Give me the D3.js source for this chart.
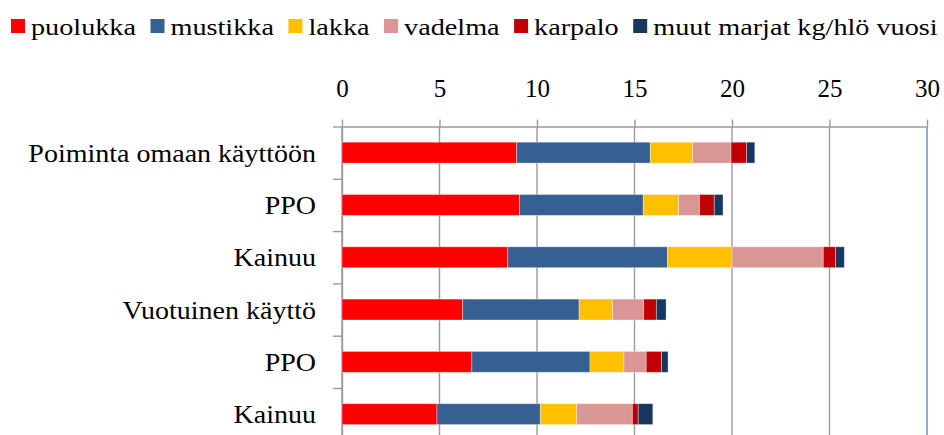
<!DOCTYPE html>
<html>
<head>
<meta charset="utf-8">
<script src="https://cdn.jsdelivr.net/npm/d3@7"></script>
<style>
  body { margin: 0; background: #fff; }
  svg { display: block; }
  text { font-family: "Liberation Serif", "Times New Roman", serif; fill: #000; }
</style>
</head>
<body>
<svg id="chart" width="944" height="435"></svg>
<script>
const categories = ['Poiminta omaan käyttöön', 'PPO', 'Kainuu', 'Vuotuinen käyttö', 'PPO ', 'Kainuu '];
const seriesNames = ['puolukka', 'mustikka', 'lakka', 'vadelma', 'karpalo', 'muut marjat kg/hlö vuosi'];
const seriesColors = ['#ff0000', '#376092', '#ffc000', '#d99694', '#c00000', '#17375e'];

const puolukka = [8.96, 9.10, 8.50, 6.19, 6.66, 4.87];
const mustikka = [6.85, 6.35, 8.19, 5.97, 6.06, 5.30];
const lakka = [2.16, 1.81, 3.31, 1.72, 1.74, 1.87];
const vadelma = [1.98, 1.07, 4.68, 1.59, 1.14, 2.85];
const karpalo = [0.80, 0.76, 0.63, 0.65, 0.79, 0.30];
const muut = [0.42, 0.45, 0.45, 0.50, 0.33, 0.75];

const xTicks = [0, 5, 10, 15, 20, 25, 30];

const seriesValues = [puolukka, mustikka, lakka, vadelma, karpalo, muut];

// rows for d3.stack
const rows = categories.map((c, i) => {
  const row = { cat: c };
  seriesNames.forEach((s, j) => { row[s] = seriesValues[j][i]; });
  return row;
});

const margin = { top: 126.5, left: 342, right: 927, bottom: 440.3 };

const svg = d3.select('#chart');

const x = d3.scaleLinear().domain([0, 30]).range([margin.left, margin.right]);
const y = d3.scaleBand()
  .domain(categories)
  .range([margin.top, margin.bottom])
  .paddingInner(0.6)
  .paddingOuter(0.3);
const yEdges = d3.scaleLinear().domain([0, categories.length]).range([margin.top, margin.bottom]);

// vertical gridlines
svg.append('g')
  .selectAll('line')
  .data(xTicks)
  .enter()
  .append('line')
  .attr('x1', d => x(d))
  .attr('x2', d => x(d))
  .attr('y1', margin.top)
  .attr('y2', 435)
  .attr('stroke', d => (d === 30 ? '#5b8bc9' : '#9a9a9a'))
  .attr('stroke-width', 1.4);

// top axis
const xAxis = svg.append('g')
  .attr('transform', `translate(0,${margin.top})`)
  .call(d3.axisTop(x).tickValues(xTicks).tickSize(7).tickSizeOuter(0));
xAxis.select('.domain').attr('stroke', '#9a9a9a').attr('stroke-width', 1.4);
xAxis.selectAll('.tick line').attr('stroke', '#9a9a9a').attr('stroke-width', 1.4);
xAxis.selectAll('.tick text')
  .attr('y', -29.5)
  .attr('dy', 0)
  .style('font-family', '"Liberation Serif", "Times New Roman", serif')
  .style('font-size', '25px')
  .attr('fill', '#000');

// left axis: ticks on category boundaries
const yAxis = svg.append('g')
  .attr('transform', `translate(${margin.left},0)`)
  .call(d3.axisLeft(yEdges).tickValues(d3.range(categories.length + 1)).tickFormat('').tickSize(9).tickSizeOuter(0));
yAxis.select('.domain').attr('stroke', '#9a9a9a').attr('stroke-width', 1.4);
yAxis.selectAll('.tick line').attr('stroke', '#9a9a9a').attr('stroke-width', 1.4);

// stacked bars
const stacked = d3.stack().keys(seriesNames)(rows);

svg.append('g')
  .selectAll('g')
  .data(stacked)
  .enter()
  .append('g')
  .attr('fill', (d, i) => seriesColors[i])
  .selectAll('rect')
  .data(d => d)
  .enter()
  .append('rect')
  .attr('x', d => x(d[0]))
  .attr('y', d => y(d.data.cat))
  .attr('width', d => x(d[1]) - x(d[0]))
  .attr('height', y.bandwidth())
  .attr('stroke', '#ffffff')
  .attr('stroke-opacity', 0.45)
  .attr('stroke-width', 0.8);

// category labels
svg.append('g')
  .selectAll('text')
  .data(categories)
  .enter()
  .append('text')
  .attr('transform', d => `translate(316,${y(d) + y.bandwidth() / 2 + 9}) scale(1.12,1)`)
  .attr('text-anchor', 'end')
  .style('font-size', '25px')
  .text(d => d.trim());

// legend
const legend = svg.append('g');
let cursor = 11;
seriesNames.forEach((name, i) => {
  legend.append('rect')
    .attr('x', cursor)
    .attr('y', 19)
    .attr('width', 14)
    .attr('height', 14)
    .attr('fill', seriesColors[i]);
  const t = legend.append('text')
    .attr('transform', `translate(${cursor + 20},35) scale(1.227,1)`)
    .style('font-size', '23px')
    .text(name);
  const w = t.node().getComputedTextLength() * 1.227;
  cursor += 20 + w + 14.5;
});
</script>
</body>
</html>
